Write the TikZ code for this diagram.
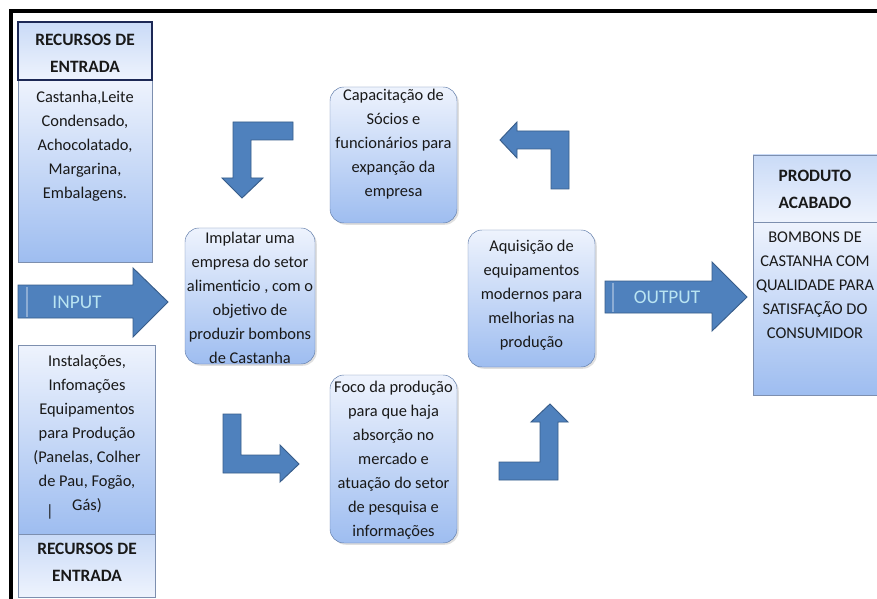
\documentclass[tikz,border=0pt]{standalone}
\usepackage{fontspec}
\setmainfont{Carlito}
\usetikzlibrary{fit,shadows}
\definecolor{arrowfill}{RGB}{79,129,189}
\definecolor{arrowline}{RGB}{56,93,138}
\definecolor{boxtop}{RGB}{238,243,253}
\definecolor{boxbot}{RGB}{158,189,240}
\definecolor{boxline}{RGB}{96,124,170}
\definecolor{rectline}{RGB}{125,143,175}
\definecolor{headline}{RGB}{28,40,85}
\definecolor{arrowtext}{RGB}{185,228,242}
\definecolor{txtcol}{RGB}{25,25,25}
\begin{document}
\begin{tikzpicture}[x=0.03cm,y=-0.03cm,font=\fontsize{14}{20.5}\selectfont,
 txt/.style={anchor=north,align=center,inner sep=0pt,text=txtcol},
 hdr/.style={txt,font=\fontsize{14.8}{23}\selectfont\bfseries},
 rectbox/.style={draw=rectline,inner sep=0pt,top color=boxtop,bottom color=boxbot},
 headbox/.style={draw=rectline,inner sep=0pt,top color=boxbot!55!white,bottom color=boxtop},
 roundbox/.style={draw=boxline,inner sep=0pt,rounded corners=12pt,top color=boxtop,bottom color=boxbot,
   drop shadow={opacity=0.25,shadow xshift=1.5pt,shadow yshift=-1.5pt}},
 blockarrow/.style={fill=arrowfill,draw=arrowline,line width=0.8pt,line join=miter},
 arrowlabel/.style={text=arrowtext,inner sep=0pt,font=\fontsize{16.5}{18}\selectfont}]
\useasboundingbox[fill=white](0,0)rectangle(877,599);
\draw[line width=2.6pt](11,605)|-(885,11);
\node[rectbox,fit={(18,80)(152,262)}](inbody){};
\node[headbox,draw=headline,line width=1.2pt,fit={(18,22)(152,80)}](inhead){};
\node[hdr](inheadt)at(85,34){RECURSOS DE\\ENTRADA};
\node[txt](inbodyt)at(85,91){Castanha,Leite\\Condensado,\\Achocolatado,\\Margarina,\\Embalagens.};
\draw[blockarrow](18,285)--(133,285)--(133,268)--(168,302)--(133,337)--(133,318)--(18,318)--cycle;
\draw[arrowfill!65!white,line width=1pt](27,286.5)--(27,316.5);
\node[arrowlabel](input)at(77,302){INPUT};
\node[rectbox,fit={(18,345)(155,534)}](resbody){};
\node[headbox,fit={(18,534)(155,597)}](reshead){};
\node[txt](resbodyt)at(87,355){Instalações,\\Infomações\\Equipamentos\\para Produção\\(Panelas, Colher\\de Pau, Fogão,\\Gás)};
\node[txt](cursor)at(50,504){|};
\node[hdr](resheadt)at(87,543){RECURSOS DE\\ENTRADA};
\node[roundbox,fit={(185,228)(315,364)}](imp){};
\node[txt](impt)at(250,232){Implatar uma\\empresa do setor\\alimenticio , com o\\objetivo de\\produzir bombons\\de Castanha};
\node[roundbox,fit={(330,87)(457,223)}](cap){};
\node[txt](capt)at(393.5,89){Capacitação de\\Sócios e\\funcionários para\\expanção da\\empresa};
\node[roundbox,fit={(468,230)(595,367)}](aq){};
\node[txt](aqt)at(531.5,240){Aquisição de\\equipamentos\\modernos para\\melhorias na\\produção};
\node[roundbox,fit={(330,375)(457,543)}](foco){};
\node[txt](focot)at(393.5,381){Foco da produção\\para que haja\\absorção no\\mercado e\\atuação do setor\\de pesquisa e\\informações};
\draw[blockarrow](233,122)--(293,122)--(293,140)--(251,140)--(251,178)--(263,178)--(242,198)--(222,178)--(233,178)--cycle;
\draw[blockarrow](500,140)--(517,122)--(517,131)--(569,131)--(569,189)--(551,189)--(551,149)--(517,149)--(517,158)--cycle;
\draw[blockarrow](223,414)--(241,414)--(241,455)--(280,455)--(280,445)--(299,464)--(280,482)--(280,473)--(223,473)--cycle;
\draw[blockarrow](499,462)--(540,462)--(540,422)--(531,422)--(550,404)--(568,422)--(558,422)--(558,480)--(499,480)--cycle;
\draw[blockarrow](605,281)--(712,281)--(712,262)--(747,297)--(712,331)--(712,313)--(605,313)--cycle;
\draw[arrowfill!65!white,line width=1pt](613,282.5)--(613,311.5);
\node[arrowlabel](output)at(667,297){OUTPUT};
\node[rectbox,fit={(753,222)(885,395)}](prodbody){};
\node[headbox,fit={(753,155)(885,222)}](prodhead){};
\node[hdr](prodheadt)at(815,170){PRODUTO\\ACABADO};
\node[txt](prodbodyt)at(815,232){BOMBONS DE\\CASTANHA COM\\QUALIDADE PARA\\SATISFAÇÃO DO\\CONSUMIDOR};
\end{tikzpicture}
\end{document}
